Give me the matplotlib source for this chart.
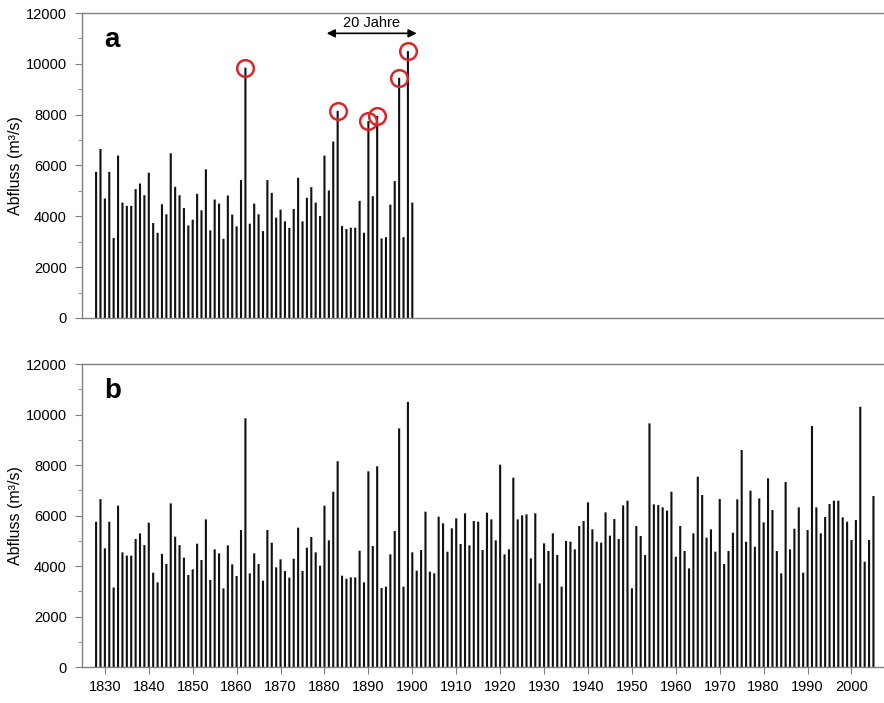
import matplotlib
matplotlib.use("Agg")
import matplotlib.pyplot as plt
from matplotlib.ticker import MultipleLocator
import numpy as np

plt.rcParams['font.family'] = ['Liberation Sans', 'DejaVu Sans']

start_year = 1828
flow = [
    # 1828-1847
    5750, 6650, 4700, 5750, 3150, 6390, 4540, 4410, 4410, 5070,
    5290, 4830, 5716, 3736, 3353, 4475, 4079, 6481, 5161, 4830,
    # 1848-1867
    4330, 3643, 3868, 4884, 4237, 5848, 3445, 4660, 4500, 3115,
    4818, 4066, 3604, 5425, 9850, 3709, 4500, 4079, 3419, 5425,
    # 1868-1887
    4924, 3947, 4264, 3802, 3538, 4290, 5518, 3802, 4726, 5148,
    4541, 4013, 6389, 5016, 6943, 8150, 3617, 3498, 3551, 3551,
    # 1888-1907
    4607, 3353, 7750, 4792, 7950, 3128, 3181, 4462, 5386, 9450,
    3181, 10500, 4541, 3815, 4633, 6151, 3775, 3709, 5953, 5689,
    # 1908-1927
    4567, 5491, 5887, 4871, 6085, 4818, 5782, 5755, 4633, 6112,
    5848, 5016, 8012, 4462, 4660, 7498, 5848, 6006, 6046, 4303,
    # 1928-1947
    6085, 3313, 4897, 4594, 5293, 4435, 3181, 4990, 4963, 4660,
    5584, 5782, 6521, 5452, 4963, 4924, 6125, 5201, 5861, 5069,
    # 1948-1967
    6402, 6587, 3115, 5584, 5188, 4435, 9649, 6442, 6415, 6323,
    6191, 6943, 4369, 5584, 4594, 3907, 5293, 7537, 6811, 5122,
    # 1968-1987
    5452, 4567, 6653, 4079, 4594, 5320, 6640, 8593, 4963, 6983,
    4765, 6679, 5729, 7471, 6217, 4594, 3709, 7326, 4660, 5478,
    # 1988-2005
    6323, 3736, 5425, 9544, 6323, 5293, 5940, 6455, 6587, 6587,
    5927, 5755, 5029, 5821, 10309, 4171, 5029, 6772,
]
years = np.arange(start_year, start_year + len(flow))
flow = np.array(flow)

end_a = 1900
highlight_years = [1862, 1883, 1890, 1892, 1897, 1899]

ylabel = "Abfluss (m³/s)"
xticks = list(range(1830, 2001, 10))

fig = plt.figure(figsize=(8.84, 7.03), dpi=100)
axa = fig.add_axes([0.0928, 0.5477, 0.9072, 0.4338])
axb = fig.add_axes([0.0928, 0.0512, 0.9072, 0.4310])

spine_col = '#808080'
bar_col = '#111111'

for ax in (axa, axb):
    ax.set_xlim(1824.8, 2007.4)
    ax.set_ylim(0, 12000)
    ax.yaxis.set_major_locator(MultipleLocator(2000))
    ax.yaxis.set_minor_locator(MultipleLocator(1000))
    ax.tick_params(axis='y', which='major', direction='out', length=5,
                   color=spine_col, labelsize=10.5, pad=6)
    ax.tick_params(axis='y', which='minor', direction='out', length=3,
                   color=spine_col)
    for s in ('top', 'left', 'bottom'):
        ax.spines[s].set_color(spine_col)
        ax.spines[s].set_linewidth(1.0)
    ax.spines['right'].set_visible(False)
    ax.set_ylabel(ylabel, fontsize=11.5)
    ax.yaxis.set_label_coords(-0.0736, 0.5)

mask_a = years <= end_a
bars_a = axa.bar(years[mask_a], flow[mask_a], width=0.48, color=bar_col,
                 linewidth=0)
bars_b = axb.bar(years, flow, width=0.48, color=bar_col, linewidth=0)
for b in list(bars_a) + list(bars_b):
    b.set_snap(False)

axa.set_xticks([])
axb.set_xticks(xticks)
axb.tick_params(axis='x', direction='out', length=5, color=spine_col,
                labelsize=10.5, pad=4)

# highlighted extremes
hl_vals = [flow[years == y][0] for y in highlight_years]
axa.plot(highlight_years, hl_vals, 'o', ms=12, mfc='none', mec='#d9262b',
         mew=1.8, clip_on=False)

# 20-year arrow
axa.annotate('', xy=(1880.5, 11200), xytext=(1901, 11200),
             arrowprops=dict(arrowstyle='<|-|>', color='black', lw=1.2,
                             mutation_scale=12, shrinkA=0, shrinkB=0))
axa.text(1890.7, 11350, '20 Jahre', ha='center', va='bottom', fontsize=10.5)

axa.text(0.028, 0.955, 'a', transform=axa.transAxes, fontsize=20,
         fontweight='bold', va='top', ha='left')
axb.text(0.028, 0.955, 'b', transform=axb.transAxes, fontsize=20,
         fontweight='bold', va='top', ha='left')

fig.savefig('out.png', dpi=100)
